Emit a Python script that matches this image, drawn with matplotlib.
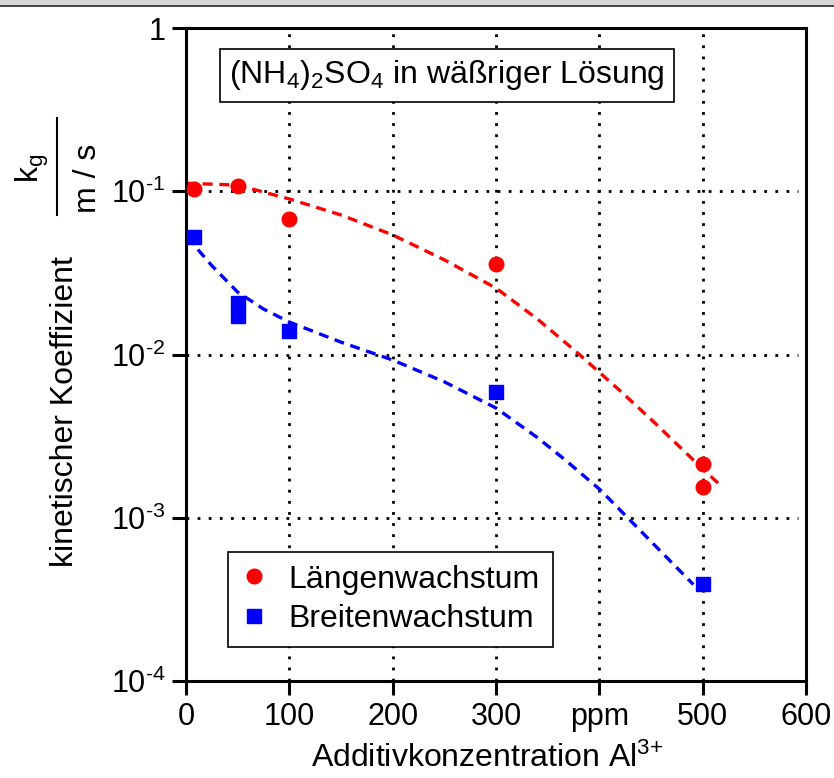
import matplotlib
matplotlib.use("Agg")
import matplotlib.pyplot as plt
import matplotlib.patches as patches
from matplotlib.lines import Line2D
from matplotlib.ticker import FixedLocator, FixedFormatter, NullLocator

plt.rcParams['font.family'] = ['Liberation Sans', 'DejaVu Sans']
plt.rcParams['mathtext.fontset'] = 'custom'
plt.rcParams['mathtext.rm'] = 'Liberation Sans'
plt.rcParams['mathtext.it'] = 'Liberation Sans:italic'
plt.rcParams['mathtext.bf'] = 'Liberation Sans:bold'

# ---- Daten ----
laenge_x = [8, 50, 100, 300, 500, 500]
laenge_y = [0.103, 0.108, 0.0676, 0.0358, 0.00213, 0.00154]
breite_x = [8, 50, 50, 100, 300, 500]
breite_y = [0.0525, 0.0207, 0.0172, 0.0139, 0.00589, 0.000393]

# Ausgleichskurven (gestrichelt)
fit_laenge_x = [0, 50, 100, 150, 200, 250, 300, 340, 378, 420, 452, 490, 519]
fit_laenge_y = [0.112, 0.109, 0.0897, 0.0716, 0.054, 0.038, 0.0255, 0.0165, 0.01035, 0.0060,
                0.0039, 0.00229, 0.00154]
fit_breite_x = [1, 25, 50, 75, 100, 150, 200, 250, 300, 340, 367, 401, 440, 491]
fit_breite_y = [0.0525, 0.035, 0.0241, 0.019, 0.0158, 0.0119, 0.00925, 0.0068, 0.0047, 0.0031,
                0.00226, 0.00148, 0.00083, 0.00039]

xticks = [0, 100, 200, 300, 400, 500, 600]
xticklabels = ['0', '100', '200', '300', 'ppm', '500', '600']
yticks = [1e-4, 1e-3, 1e-2, 1e-1, 1]
yticklabels = [r'10$^{\text{-4}}$', r'10$^{\text{-3}}$',
               r'10$^{\text{-2}}$', r'10$^{\text{-1}}$', '1']

W, H = 834, 778
fig = plt.figure(figsize=(W / 100, H / 100), dpi=100)

# grauer Rand oben
fig.add_artist(patches.Rectangle((0, 1 - 4.5 / H), 1, 4.5 / H, transform=fig.transFigure,
                                 facecolor='#d8d8d8', edgecolor='none'))
fig.add_artist(Line2D([0, 1], [1 - 5.5 / H, 1 - 5.5 / H], transform=fig.transFigure,
                      color='#222222', linewidth=1.2))

ax = fig.add_axes([186 / W, 1 - 681 / H, 620 / W, 653 / H])
ax.set_yscale('log')
ax.set_xlim(0, 600)
ax.set_ylim(1e-4, 1)

ax.xaxis.set_major_locator(FixedLocator(xticks))
ax.xaxis.set_major_formatter(FixedFormatter(xticklabels))
ax.yaxis.set_major_locator(FixedLocator(yticks))
ax.yaxis.set_major_formatter(FixedFormatter(yticklabels))
ax.yaxis.set_minor_locator(NullLocator())
ax.tick_params(axis='both', direction='out', length=10, width=2.2, labelsize=22, pad=5)

for s in ax.spines.values():
    s.set_linewidth(2.2)

grid_style = dict(color='black', linewidth=2.0, linestyle=(0, (1, 3)))
for xv in [100, 200, 300, 400, 500]:
    ax.axvline(xv, **grid_style, zorder=1)
for yv in [1e-3, 1e-2, 1e-1]:
    ax.axhline(yv, xmax=0.987, **grid_style, zorder=1)

ax.plot(fit_laenge_x, fit_laenge_y, color='red', linewidth=2.4, linestyle=(0, (3, 2)), zorder=2)
ax.plot(fit_breite_x, fit_breite_y, color='blue', linewidth=2.4, linestyle=(0, (3, 2)), zorder=2)
ax.plot(laenge_x, laenge_y, 'o', color='red', markersize=10.5, linestyle='none',
        label='Längenwachstum', zorder=3)
ax.plot(breite_x, breite_y, 's', color='blue', markersize=10.5, linestyle='none',
        label='Breitenwachstum', zorder=3)

leg = ax.legend(loc='lower left', bbox_to_anchor=(42 / 620, 34 / 653), borderaxespad=0,
                fontsize=23, handlelength=0.8, handletextpad=0.7, borderpad=0.4,
                labelspacing=0.3, fancybox=False, framealpha=1, edgecolor='black')
leg.get_frame().set_linewidth(1.2)

ax.text(252.6, 0.512, r'(NH$_{\mathdefault{4}}$)$_{\mathdefault{2}}$SO$_{\mathdefault{4}}$ in wäßriger Lösung',
        ha='center', va='center', fontsize=23, zorder=4,
        bbox=dict(boxstyle='square,pad=0.3', facecolor='white', edgecolor='black', linewidth=1.2))

# Achsenbeschriftungen
fig.text(487 / W, 1 - 758 / H, r'Additivkonzentration Al$^{\text{3+}}$',
         ha='center', va='center', fontsize=23)
fig.text(65 / W, 1 - 412 / H, 'kinetischer Koeffizient', rotation=90,
         ha='center', va='center', fontsize=23)
fig.text(32 / W, 1 - 168 / H, r'k$_{\mathdefault{g}}$', rotation=90,
         ha='center', va='center', fontsize=23)
fig.add_artist(Line2D([57 / W, 57 / W], [1 - 118 / H, 1 - 215 / H], transform=fig.transFigure,
                      color='black', linewidth=1.5))
fig.text(88 / W, 1 - 178 / H, 'm / s', rotation=90, ha='center', va='center', fontsize=23)

fig.savefig('out.png', dpi=100)
